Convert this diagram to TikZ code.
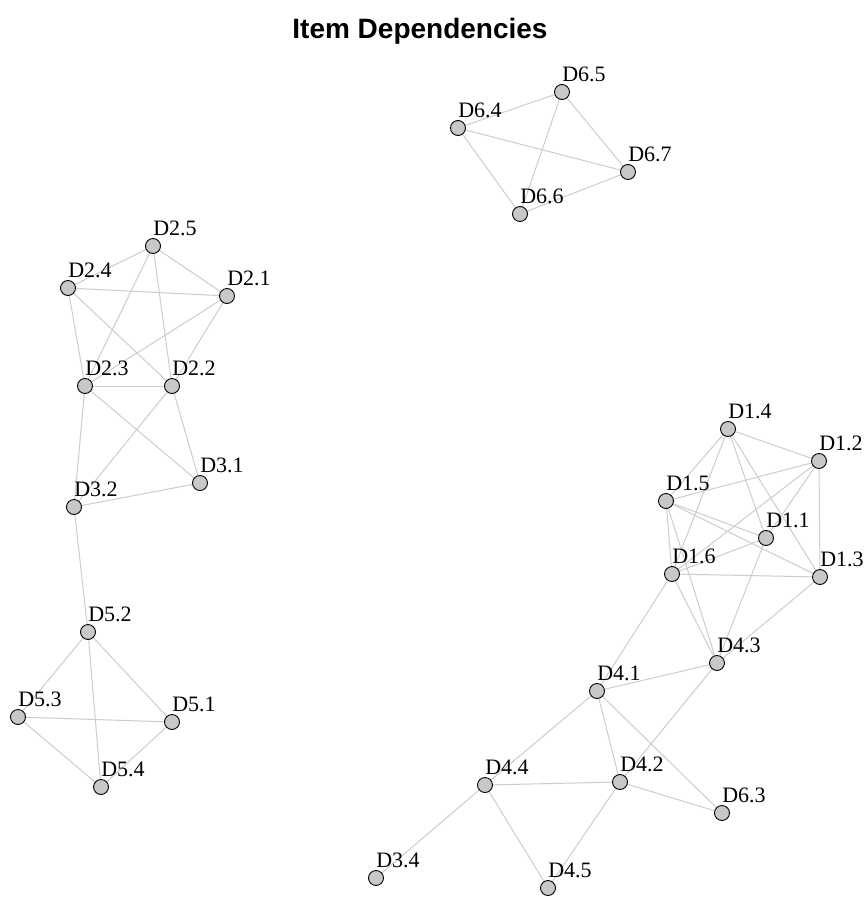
\documentclass[tikz,border=0pt]{standalone}
\usepackage{fontspec}
\setmainfont{Liberation Serif}
\newfontfamily\titlefont{Liberation Sans}
\usetikzlibrary{backgrounds}
\definecolor{edgegray}{RGB}{205,205,205}
\definecolor{vertfill}{RGB}{200,200,200}
\tikzset{
  vert/.style={circle,draw=black,line width=0.9pt,fill=vertfill,minimum size=15pt,inner sep=0pt},
  lab/.style={anchor=base,inner sep=0pt,font=\fontsize{22}{24}\selectfont},
  edge/.style={draw=edgegray,line width=1pt},
  ttl/.style={anchor=base,inner sep=0pt,font=\titlefont\bfseries\fontsize{28}{30}\selectfont}
}
\newcommand\vtx[4]{\node[vert] (#1) at (#2,#3) {}; \node[lab] (l#1) at ({#2+22},{#3-11}) {#4};}
\begin{document}
\begin{tikzpicture}[x=1pt,y=-1pt]
\useasboundingbox (0,0) rectangle (867,900);
\node[ttl] (title) at (420,38) {Item Dependencies};
% cluster 6
\vtx{a65}{562}{92}{D6.5}
\vtx{a64}{458}{128}{D6.4}
\vtx{a67}{628}{172}{D6.7}
\vtx{a66}{520}{214}{D6.6}
% cluster 2/3
\vtx{a25}{153}{246}{D2.5}
\vtx{a24}{68}{288}{D2.4}
\vtx{a21}{227}{296}{D2.1}
\vtx{a23}{85}{386}{D2.3}
\vtx{a22}{172}{386}{D2.2}
\vtx{a31}{200}{483}{D3.1}
\vtx{a32}{74}{507}{D3.2}
% cluster 5
\vtx{a52}{88}{632}{D5.2}
\vtx{a53}{18}{717}{D5.3}
\vtx{a51}{172}{722}{D5.1}
\vtx{a54}{101}{787}{D5.4}
% cluster 1/4
\vtx{a14}{728}{429}{D1.4}
\vtx{a12}{819}{461}{D1.2}
\vtx{a15}{666}{501}{D1.5}
\vtx{a11}{766}{538}{D1.1}
\vtx{a16}{672}{574}{D1.6}
\vtx{a13}{820}{577}{D1.3}
\vtx{a43}{717}{663}{D4.3}
\vtx{a41}{597}{691}{D4.1}
\vtx{a44}{485}{785}{D4.4}
\vtx{a42}{620}{782}{D4.2}
\vtx{a63}{722}{813}{D6.3}
\vtx{a34}{376}{878}{D3.4}
\vtx{a45}{548}{888}{D4.5}
\begin{scope}[on background layer]
\fill[white] (0,0) rectangle (867,900);
\foreach \u/\v in {a64/a65,a64/a67,a64/a66,a65/a66,a65/a67,a66/a67,
  a25/a24,a25/a21,a25/a23,a25/a22,a24/a21,a24/a23,a24/a22,a21/a23,a21/a22,a23/a22,
  a23/a32,a23/a31,a22/a32,a22/a31,a32/a31,a32/a52,
  a52/a53,a52/a51,a52/a54,a53/a51,a53/a54,a51/a54,
  a14/a12,a14/a15,a14/a16,a14/a11,a14/a13,a12/a15,a12/a16,a12/a13,a12/a11,
  a15/a11,a15/a13,a15/a16,a15/a43,a16/a11,a16/a13,a16/a43,a16/a41,a11/a43,a13/a43,
  a43/a41,a43/a42,a41/a44,a41/a42,a41/a63,a42/a44,a42/a63,a42/a45,a44/a34,a44/a45}
  \draw[edge] (\u.center) -- (\v.center);
\end{scope}
\end{tikzpicture}
\end{document}
